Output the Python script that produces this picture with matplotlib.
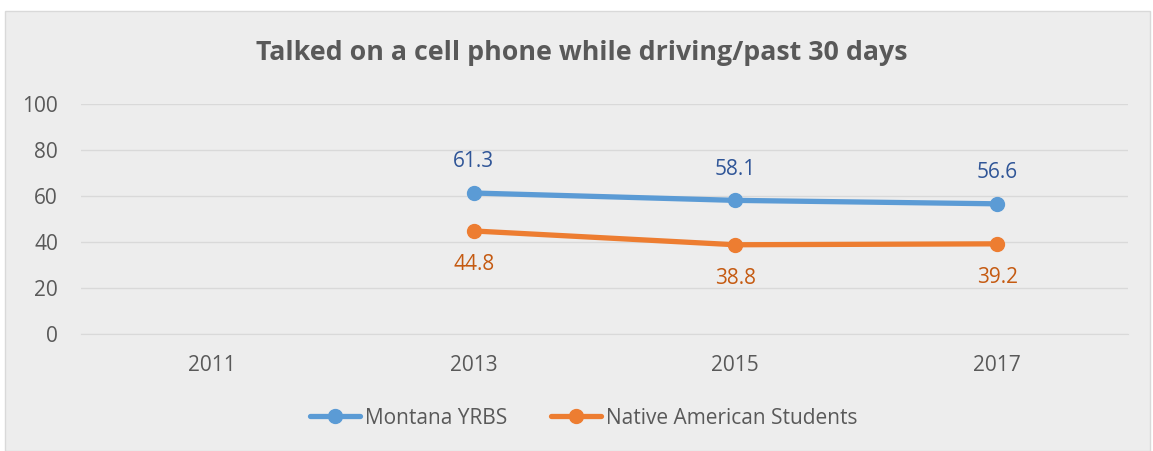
import matplotlib
matplotlib.use("Agg")
import matplotlib.pyplot as plt
from matplotlib.patches import Rectangle

years = ["2011", "2013", "2015", "2017"]
montana = [None, 61.3, 58.1, 56.6]
native = [None, 44.8, 38.8, 39.2]

BLUE = "#5B9BD5"
ORANGE = "#ED7D31"
BLUE_TXT = "#2F5597"
ORANGE_TXT = "#C55A11"
GRAY_TXT = "#595959"
BG = "#EDEDED"
FS = 15

plt.rcParams["font.family"] = ["Open Sans", "DejaVu Sans"]

fig = plt.figure(figsize=(11.53, 4.51), dpi=100)
fig.patch.set_facecolor("white")
fig.patches.append(Rectangle((5 / 1153, 0), 1145 / 1153, 440 / 451,
                             transform=fig.transFigure, facecolor=BG,
                             edgecolor="#D9D9D9", linewidth=1, zorder=-10))

ax = fig.add_axes([81 / 1153, (451 - 334) / 451, (1128 - 81) / 1153, 230 / 451])
ax.set_facecolor(BG)
x = list(range(len(years)))


def plot_series(vals, color, txtcolor, label, offset):
    xs = [i for i, v in zip(x, vals) if v is not None]
    ys = [v for v in vals if v is not None]
    ax.plot(xs, ys, color=color, linewidth=3.8, marker="o", markersize=10,
            label=label, solid_capstyle="round", zorder=3)
    for xi, yi in zip(xs, ys):
        ax.annotate(f"{yi:.1f}", (xi, yi), xytext=(0, offset),
                    textcoords="offset points", ha="center", va="center",
                    color=txtcolor, fontsize=FS)


plot_series(montana, BLUE, BLUE_TXT, "Montana YRBS", 22.5)
plot_series(native, ORANGE, ORANGE_TXT, "Native American Students", -24.5)

ax.set_xlim(-0.5, 3.5)
ax.set_ylim(0, 100)
ax.set_yticks(range(0, 101, 20))
ax.set_xticks(x)
ax.set_xticklabels(years)
ax.grid(axis="y", color="#D9D9D9", linewidth=1)
ax.set_axisbelow(True)
for s in ax.spines.values():
    s.set_visible(False)
ax.spines["bottom"].set_visible(True)
ax.spines["bottom"].set_color("#D9D9D9")
ax.tick_params(length=0, labelsize=FS, labelcolor=GRAY_TXT)
ax.tick_params(axis="y", pad=16.5)
ax.tick_params(axis="x", pad=15)

fig.text(582 / 1153, 1 - 53 / 451, "Talked on a cell phone while driving/past 30 days",
         ha="center", va="center", fontsize=19.3, fontweight="bold", color=GRAY_TXT)

leg = fig.legend(loc="center", bbox_to_anchor=(584 / 1153, 1 - 418 / 451), ncol=2,
                 frameon=False, fontsize=FS, handlelength=2.4, columnspacing=2.1,
                 handletextpad=0.25)
for t in leg.get_texts():
    t.set_color(GRAY_TXT)

fig.savefig("out.png", dpi=100, facecolor=fig.get_facecolor())
